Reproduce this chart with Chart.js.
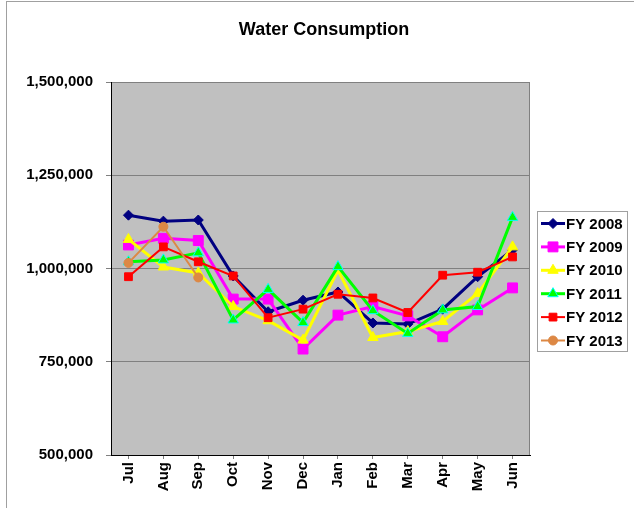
<!DOCTYPE html>
<html>
<head>
<meta charset="utf-8">
<script src="https://cdn.jsdelivr.net/npm/chart.js@4.4.0/dist/chart.umd.min.js"></script>
<style>
  body { margin: 0; background: #fff; }
  #wrap { width: 634px; height: 508px; position: relative; }
</style>
</head>
<body>
<div id="wrap"><canvas id="chart" width="634" height="508"></canvas></div>
<script>
// months of the fiscal year
const months = ['Jul', 'Aug', 'Sep', 'Oct', 'Nov', 'Dec', 'Jan', 'Feb', 'Mar', 'Apr', 'May', 'Jun'];

// consumption per year
const fy2008 = [1143000, 1127000, 1130000, 980000, 884000, 915000, 937000, 854000, 851000, 891000, 978000, 1050000];
const fy2009 = [1063000, 1081000, 1075000, 918000, 918000, 784000, 875000, 898000, 873000, 817000, 889000, 948000];
const fy2010 = [1078000, 1004000, 988000, 898000, 860000, 808000, 995000, 815000, 831000, 858000, 933000, 1058000];
const fy2011 = [1018000, 1023000, 1042000, 862000, 944000, 855000, 1005000, 887000, 826000, 889000, 898000, 1137000];
const fy2012 = [978000, 1058000, 1018000, 980000, 868000, 891000, 931000, 921000, 882000, 982000, 990000, 1031000];
const fy2013 = [1015000, 1112000, 976000, null, null, null, null, null, null, null, null, null];

const yTicks = [500000, 750000, 1000000, 1250000, 1500000];

const FONT = 'Liberation Sans, Arial, sans-serif';

function series(label, data, color, width, style, radius, border) {
    return {
        label: label,
        data: data,
        borderColor: color,
        borderWidth: width,
        backgroundColor: color,
        pointStyle: style,
        pointRadius: radius,
        pointBackgroundColor: color,
        pointBorderColor: border || color,
        pointBorderWidth: 1,
        spanGaps: false,
        tension: 0
    };
}

const datasets = [
    series('FY 2008', fy2008, '#000080', 3, 'rectRot', 5),
    series('FY 2009', fy2009, '#FF00FF', 3, 'rect', 7),
    series('FY 2010', fy2010, '#FFFF00', 3, 'triangle', 6),
    series('FY 2011', fy2011, '#00FF00', 3, 'triangle', 6, '#00FFFF'),
    series('FY 2012', fy2012, '#FF0000', 2, 'rect', 5.5),
    series('FY 2013', fy2013, '#DD8844', 2, 'circle', 4.5)
];
// later years on top, like the original
datasets.forEach((d, i) => { d.order = datasets.length - i; });

// gray plot background with a thin frame
const plotBg = {
    id: 'plotBg',
    beforeDraw(chart) {
        const ctx = chart.ctx;
        const a = chart.chartArea;
        ctx.save();
        ctx.fillStyle = '#C0C0C0';
        ctx.fillRect(a.left, a.top, a.right - a.left, a.bottom - a.top);
        ctx.strokeStyle = '#808080';
        ctx.lineWidth = 1;
        ctx.strokeRect(a.left + 0.5, a.top + 0.5, a.right - a.left - 1, a.bottom - a.top);
        // outer chart frame
        ctx.strokeStyle = '#A0A0A0';
        ctx.strokeRect(6.5, 1.5, 700, 600);
        ctx.restore();
    }
};

function marker(ctx, ds, x, y) {
    const opts = {
        pointStyle: ds.pointStyle,
        radius: ds.pointRadius,
        borderWidth: ds.pointBorderWidth,
        rotation: 0
    };
    ctx.fillStyle = ds.pointBackgroundColor;
    ctx.strokeStyle = ds.pointBorderColor;
    ctx.lineWidth = ds.pointBorderWidth;
    Chart.helpers.drawPoint(ctx, opts, x, y);
}

// title and legend box drawn by hand
const extras = {
    id: 'extras',
    afterDraw(chart) {
        const ctx = chart.ctx;
        ctx.save();
        ctx.fillStyle = '#000';
        ctx.font = 'bold 18px ' + FONT;
        ctx.textAlign = 'center';
        ctx.textBaseline = 'middle';
        ctx.fillText('Water Consumption', 324, 30);

        ctx.fillStyle = '#fff';
        ctx.fillRect(537.5, 211.5, 90, 140);
        ctx.strokeStyle = '#A0A0A0';
        ctx.lineWidth = 1;
        ctx.strokeRect(537.5, 211.5, 90, 140);

        chart.data.datasets.forEach((ds, i) => {
            const y = 223.5 + i * 23.4;
            ctx.strokeStyle = ds.borderColor;
            ctx.lineWidth = ds.borderWidth;
            ctx.beginPath();
            ctx.moveTo(541, y);
            ctx.lineTo(565, y);
            ctx.stroke();
            marker(ctx, ds, 553, y);
            ctx.fillStyle = '#000';
            ctx.font = 'bold 15px ' + FONT;
            ctx.textAlign = 'left';
            ctx.textBaseline = 'middle';
            ctx.fillText(ds.label, 566, y + 1);
        });
        ctx.restore();
    }
};

new Chart(document.getElementById('chart'), {
    type: 'line',
    data: { labels: months, datasets: datasets },
    options: {
        responsive: false,
        animation: false,
        layout: { padding: { top: 82, right: 104, bottom: 0, left: 0 } },
        plugins: {
            legend: { display: false },
            title: { display: false },
            tooltip: { enabled: false }
        },
        scales: {
            x: {
                offset: true,
                afterFit: s => { s.height = 53; },
                grid: { drawOnChartArea: false, tickLength: 4, color: '#808080' },
                border: { color: '#000', width: 1 },
                ticks: {
                    minRotation: 90,
                    maxRotation: 90,
                    padding: 3,
                    color: '#000',
                    font: { family: FONT, size: 15, weight: 'bold' }
                }
            },
            y: {
                min: 500000,
                max: 1500000,
                afterFit: s => { s.width = 111; },
                afterBuildTicks: s => { s.ticks = yTicks.map(v => ({ value: v })); },
                grid: { color: '#808080', tickLength: 5 },
                border: { color: '#000', width: 1 },
                ticks: {
                    padding: 13,
                    color: '#000',
                    font: { family: FONT, size: 15, weight: 'bold' },
                    callback: v => v.toLocaleString('en-US')
                }
            }
        }
    },
    plugins: [plotBg, extras]
});
</script>
</body>
</html>
